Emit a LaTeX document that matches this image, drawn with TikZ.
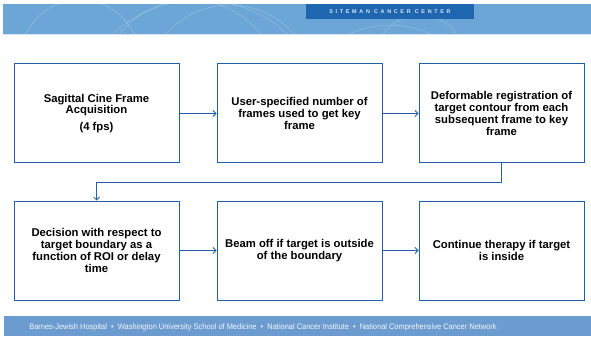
\documentclass[tikz,border=0pt]{standalone}
\usepackage{fontspec}
\setmainfont{Liberation Sans}
\newfontfamily\spacedfont[LetterSpace=50]{Liberation Sans}
\usetikzlibrary{arrows.meta}
\definecolor{boxblue}{HTML}{2060A8}
\definecolor{bandblue}{HTML}{6CA6D6}
\definecolor{tabblue}{HTML}{1F66B0}
\definecolor{footblue}{HTML}{6C9CCF}
\tikzset{
  stepbox/.style={draw=boxblue, line width=1pt, minimum width=165pt, minimum height=99pt,
    align=center, font=\bfseries\fontsize{11.3}{11.9}\selectfont, inner sep=0pt},
  flow/.style={draw=boxblue, line width=0.8pt, -{Straight Barb[length=3pt,width=6pt]}},
}
\begin{document}
\begin{tikzpicture}[x=1pt,y=-1pt]
\useasboundingbox (0,0) rectangle (591,339);
\fill[white] (0,0) rectangle (591,339);
% header band with faint arcs
\fill[bandblue] (3,4) rectangle (591,34);
\begin{scope}
\clip (3,4) rectangle (591,34);
\draw[white, opacity=0.3, line width=0.4pt] (80,60) circle (60);
\draw[white, opacity=0.3, line width=0.4pt] (190,90) circle (90);
\draw[white, opacity=0.3, line width=0.4pt] (230,90) circle (85);
\draw[white, opacity=0.3, line width=0.4pt] (200,130) circle (130);
\draw[white, opacity=0.3, line width=0.4pt] (390,120) circle (95);
\draw[white, opacity=0.3, line width=0.4pt] (420,60) circle (45);
\end{scope}
\draw[white!70!bandblue, line width=0.6pt] (3,34) -- (591,34);
\node[fill=tabblue, minimum width=168pt, minimum height=15pt, inner sep=0pt,
  text=white!85!tabblue, font=\spacedfont\bfseries\fontsize{5.4}{6}\selectfont] (tab) at (390,11.5) {SITEMAN CANCER CENTER};
% footer band
\fill[footblue] (4,316) rectangle (591,336);
\node[text=white!92!footblue, font=\fontsize{8}{9}\selectfont, inner sep=0pt] (foot) at (263,327.5)
  {\scalebox{0.93}[1]{Barnes-Jewish Hospital \ \textbullet\ \ Washington University School of Medicine \ \textbullet\ \ National Cancer Institute \ \textbullet\ \ National Comprehensive Cancer Network}};
% process boxes
\node[stepbox] (acq) at (96.5,113.5) {Sagittal Cine Frame\\Acquisition\\[5pt](4 fps)};
\node[stepbox] (user) at (299.5,113.5) {User-specified number of\\frames used to get key\\frame};
\node[stepbox] (reg) at (501.5,113.5) {Deformable registration of\\target contour from each\\subsequent frame to key\\frame};
\node[stepbox] (dec) at (96.5,250.5) {Decision with respect to\\target boundary as a\\function of ROI or delay\\time};
\node[stepbox] (beam) at (299.5,250.5) {Beam off if target is outside\\of the boundary};
\node[stepbox] (cont) at (501.5,250.5) {Continue therapy if target\\is inside};
% connectors
\draw[flow] (acq) -- (user);
\draw[flow] (user) -- (reg);
\draw[flow] (reg.south) -- ++(0,19) -| (dec.north);
\draw[flow] (dec) -- (beam);
\draw[flow] (beam) -- (cont);
\end{tikzpicture}
\end{document}
